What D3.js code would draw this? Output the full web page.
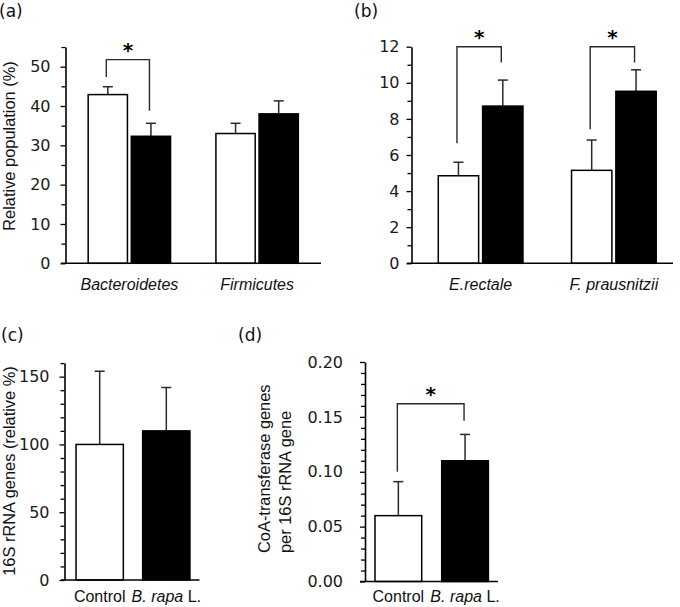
<!DOCTYPE html>
<html><head><meta charset="utf-8">
<script src="https://cdn.jsdelivr.net/npm/d3@7"></script>
<style>body{margin:0;background:#fff}svg{display:block}</style>
</head><body>
<svg id="c" width="680" height="607"></svg>
<script>
// ---------- data ----------
const seriesNames = ["Control", "B. rapa L."];
// panel (a)
const catsA = ["Bacteroidetes", "Firmicutes"];
const ctrlA = [42.9, 33.0];
const ctrlErrA = [2.0, 2.6];
const treatA = [32.3, 38.0];
const treatErrA = [3.3, 3.3];
const ticksA = [0, 10, 20, 30, 40, 50];
const minorA = [5, 15, 25, 35, 45, 55];
const bracketsA = [{cat: 0, top: 51.8, left: 47.4, right: 38.8}];
// panel (b)
const catsB = ["E.rectale", "F. prausnitzii"];
const ctrlB = [4.85, 5.15];
const ctrlErrB = [0.75, 1.68];
const treatB = [8.71, 9.53];
const treatErrB = [1.44, 1.19];
const ticksB = [0, 2, 4, 6, 8, 10, 12];
const minorB = [1, 3, 5, 7, 9, 11];
const bracketsB = [{cat: 0, top: 12.0, left: 6.65, right: 11.13}, {cat: 1, top: 12.0, left: 7.42, right: 11.13}];
// panel (c)
const valuesC = [100, 110];
const errC = [54, 32];
const ticksC = [0, 50, 100, 150];
const minorC = [10, 20, 30, 40, 60, 70, 80, 90, 110, 120, 130, 140, 160];
// panel (d)
const valuesD = [0.060, 0.110];
const errD = [0.031, 0.024];
const ticksD = [0, 0.05, 0.10, 0.15, 0.20];
const minorD = [0.01,0.02,0.03,0.04,0.06,0.07,0.08,0.09,0.11,0.12,0.13,0.14,0.16,0.17,0.18,0.19];
const bracketsD = [{top: 0.162, left: 0.100, right: 0.1464}];

// ---------- drawing ----------
const svg = d3.select("#c");
const LINE = "#2a2a2a";
const TICKFONT = "'DejaVu Sans', Verdana, sans-serif";
const SANS = "'Liberation Sans', Arial, sans-serif";

function yAxis(g, y, x0, majors, minors, fmt, pad) {
  const ax = g.append("g").attr("transform", `translate(${x0},0)`)
    .call(d3.axisLeft(y).tickValues(majors).tickSize(5).tickSizeOuter(0).tickPadding(pad).tickFormat(fmt));
  ax.select(".domain").attr("stroke", "#000").attr("stroke-width", 1.6);
  ax.selectAll(".tick line").attr("stroke", "#000").attr("stroke-width", 1.3);
  ax.selectAll(".tick text").attr("font-family", TICKFONT).attr("font-size", 16).attr("fill", "#1a1a1a");
  const mn = g.append("g").attr("transform", `translate(${x0},0)`)
    .call(d3.axisLeft(y).tickValues(minors).tickSize(4).tickSizeOuter(0).tickFormat(""));
  mn.select(".domain").remove();
  mn.selectAll(".tick line").attr("stroke", "#000").attr("stroke-width", 1.3);
}

function bar(g, x, w, y, v, err, black) {
  g.append("line").attr("x1", x + w/2).attr("x2", x + w/2).attr("y1", y(v)).attr("y2", y(v + err))
    .attr("stroke", LINE).attr("stroke-width", 1.5);
  g.append("line").attr("x1", x + w/2 - 5).attr("x2", x + w/2 + 5).attr("y1", y(v + err)).attr("y2", y(v + err))
    .attr("stroke", LINE).attr("stroke-width", 1.5);
  g.append("rect").attr("x", x).attr("y", y(v)).attr("width", w).attr("height", y(0) - y(v))
    .attr("fill", black ? "#000" : "#fff").attr("stroke", "#000").attr("stroke-width", 1.5);
}

function bracket(g, xl, xr, y, b) {
  g.append("path")
    .attr("d", `M${xl},${y(b.left)}V${y(b.top)}H${xr}V${y(b.right)}`)
    .attr("fill", "none").attr("stroke", LINE).attr("stroke-width", 1.4);
  g.append("text").attr("x", (xl + xr) / 2).attr("y", y(b.top) - 14 + 11)
    .attr("text-anchor", "middle").attr("font-family", "'DejaVu Sans', sans-serif")
    .attr("font-weight", "bold").attr("font-size", 20).text("*");
}

function panelLabel(x, y, t) {
  svg.append("text").attr("x", x).attr("y", y).attr("font-family", TICKFONT).attr("font-size", 17)
    .attr("fill", "#111").text(t);
}

function groupedPanel(cfg) {
  const g = svg.append("g");
  const y = d3.scaleLinear().domain([0, cfg.ymax]).range([cfg.y0, cfg.ytop]);
  const x = d3.scaleBand().domain(cfg.cats).range(cfg.xr).padding(0);
  const inner = d3.scaleBand().domain(seriesNames).range([-cfg.gw / 2, cfg.gw / 2]).paddingInner(0.09);
  cfg.cats.forEach((c, i) => {
    const cx = x(c) + x.bandwidth() / 2;
    bar(g, cx + inner(seriesNames[0]), inner.bandwidth(), y, cfg.ctrl[i], cfg.ctrlErr[i], false);
    bar(g, cx + inner(seriesNames[1]), inner.bandwidth(), y, cfg.treat[i], cfg.treatErr[i], true);
    g.append("text").attr("x", cx).attr("y", cfg.labelY).attr("text-anchor", "middle")
      .attr("font-family", SANS).attr("font-style", "italic").attr("font-size", 16).attr("fill", "#111").text(c);
  });
  cfg.brackets.forEach(b => {
    const cx = x(cfg.cats[b.cat]) + x.bandwidth() / 2;
    const xl = cx + inner(seriesNames[0]) + inner.bandwidth() / 2 - 1.5;
    const xr = cx + inner(seriesNames[1]) + inner.bandwidth() / 2 - 1.5;
    bracket(g, xl, xr, y, b);
  });
  g.append("line").attr("x1", cfg.xline[0]).attr("x2", cfg.xline[1]).attr("y1", cfg.y0).attr("y2", cfg.y0)
    .attr("stroke", "#000").attr("stroke-width", 1.6);
  yAxis(g, y, cfg.xr[0] - (cfg.axisShift || 0), cfg.majors, cfg.minors, cfg.fmt, cfg.pad);
  return g;
}

function simplePanel(cfg) {
  const g = svg.append("g");
  const y = d3.scaleLinear().domain([0, cfg.ymax]).range([cfg.y0, cfg.ytop]);
  const x = d3.scaleBand().domain(seriesNames).range(cfg.xr).padding(0);
  const bw = cfg.bw;
  seriesNames.forEach((s, i) => {
    const cx = x(s) + x.bandwidth() / 2;
    bar(g, cx - bw / 2, bw, y, cfg.values[i], cfg.err[i], i === 1);
    const t = g.append("text").attr("x", cx).attr("y", cfg.labelY).attr("text-anchor", "middle")
      .attr("font-family", SANS).attr("font-size", 16).attr("fill", "#111");
    if (i === 0) t.text(s);
    else { t.append("tspan").attr("font-style", "italic").text("B. rapa"); t.append("tspan").text(" L."); }
  });
  (cfg.brackets || []).forEach(b => {
    const xl = x(seriesNames[0]) + x.bandwidth() / 2 - 1;
    const xr = x(seriesNames[1]) + x.bandwidth() / 2 - 1;
    bracket(g, xl, xr, y, b);
  });
  g.append("line").attr("x1", cfg.xline[0]).attr("x2", cfg.xline[1]).attr("y1", cfg.y0).attr("y2", cfg.y0)
    .attr("stroke", "#000").attr("stroke-width", 1.6);
  yAxis(g, y, cfg.axisX, cfg.majors, cfg.minors, cfg.fmt, cfg.pad);
  return g;
}

// (a)
groupedPanel({cats: catsA, ctrl: ctrlA, ctrlErr: ctrlErrA, treat: treatA, treatErr: treatErrA,
  ymax: 55, y0: 263.3, ytop: 47, xr: [65.5, 321], gw: 82.4, xline: [61, 321],
  majors: ticksA, minors: minorA, fmt: d3.format("d"), pad: 10, labelY: 289.5, brackets: bracketsA});
// (b)
groupedPanel({cats: catsB, ctrl: ctrlB, ctrlErr: ctrlErrB, treat: treatB, treatErr: treatErrB,
  ymax: 12, y0: 263.3, ytop: 46.7, xr: [414, 680.5], gw: 84.7, axisShift: 2.5, xline: [407, 673],
  majors: ticksB, minors: minorB, fmt: d3.format("d"), pad: 7, labelY: 290, brackets: bracketsB});
// (c)
simplePanel({values: valuesC, err: errC, ymax: 160, y0: 580, ytop: 363.1, xr: [66.4, 199.6], bw: 47.3,
  axisX: 64.5, xline: [61, 199.5], majors: ticksC, minors: minorC, fmt: d3.format("d"), pad: 10, labelY: 601.5});
// (d)
simplePanel({values: valuesD, err: errD, ymax: 0.2, y0: 581.5, ytop: 362, xr: [365, 498.4], bw: 46.7,
  axisX: 365, xline: [360, 498], majors: ticksD, minors: minorD, fmt: d3.format(".2f"), pad: 17, labelY: 601.5,
  brackets: bracketsD});

// panel labels
panelLabel(-1, 16.5, "(a)");
panelLabel(354, 16.5, "(b)");
panelLabel(1, 341, "(c)");
panelLabel(238, 341, "(d)");

// y-axis titles
function vtitle(x, y, anchor, t) {
  svg.append("text").attr("transform", `translate(${x},${y}) rotate(-90)`).attr("text-anchor", anchor)
    .attr("font-family", SANS).attr("font-size", 16.4).attr("fill", "#111").text(t);
}
vtitle(15, 146, "middle", "Relative population (%)");
vtitle(15, 471, "middle", "16S rRNA genes (relative %)");
vtitle(269.8, 553, "start", "CoA-transferase genes");
vtitle(290.8, 553, "start", "per 16S rRNA gene");
</script>
</body></html>
